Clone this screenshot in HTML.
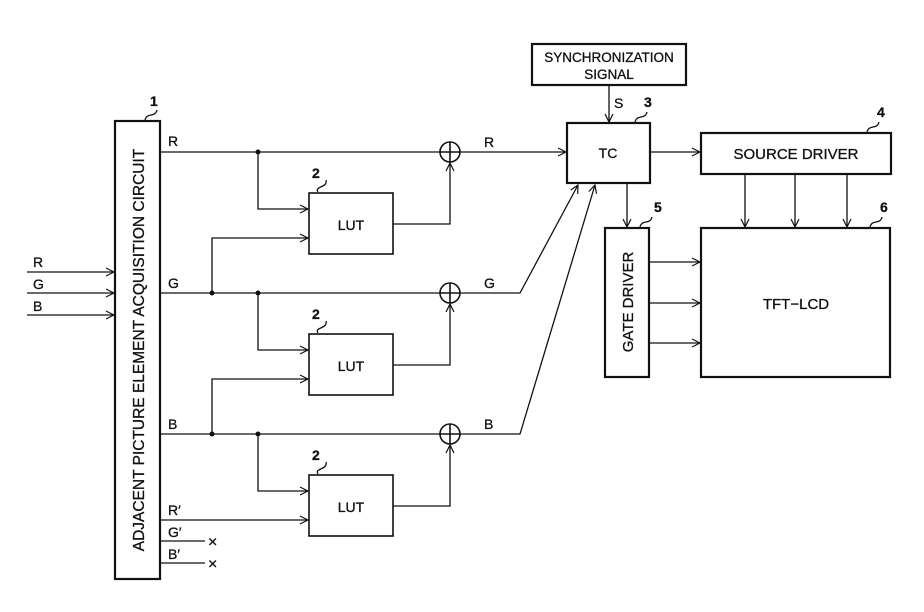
<!DOCTYPE html>
<html><head><style>body{margin:0;background:#fff}svg{display:block}text{font-family:"Liberation Sans",sans-serif;fill:#111;stroke:#111;stroke-width:0.3}</style></head><body>
<svg width="924" height="612" viewBox="0 0 924 612" xmlns="http://www.w3.org/2000/svg">
<defs><marker id="a" markerWidth="10" markerHeight="10" refX="9" refY="5" orient="auto" markerUnits="userSpaceOnUse"><path d="M1,1 L9,5 L1,9" fill="none" stroke="#111" stroke-width="1.2"/></marker></defs>
<g stroke="#111" stroke-width="1.6" fill="none">
<rect x="115" y="121" width="45" height="458" stroke-width="2.2"/>
<rect x="309" y="193" width="84" height="61"/>
<rect x="309" y="334" width="84" height="61"/>
<rect x="309" y="475" width="84" height="61"/>
<rect x="532" y="44" width="154" height="41" stroke-width="2.2"/>
<rect x="567" y="123" width="83" height="60" stroke-width="2.2"/>
<rect x="701" y="133" width="190" height="41" stroke-width="2.2"/>
<rect x="701" y="228" width="189" height="149" stroke-width="2.2"/>
<rect x="605" y="228" width="44" height="149" stroke-width="2.2"/>
<circle cx="450" cy="152" r="10"/><circle cx="450" cy="293" r="10"/><circle cx="450" cy="434" r="10"/>
<path d="M440,152h20M450,142v20M440,293h20M450,283v20M440,434h20M450,424v20"/>
</g>
<g stroke="#111" stroke-width="1.3" fill="none" marker-end="url(#a)">
<path d="M27,272H114"/><path d="M27,293H114"/><path d="M27,315H114"/>
<path d="M258,152V209H308"/><path d="M212,293V238H308"/>
<path d="M258,293V350H308"/><path d="M212,434V379H308"/>
<path d="M258,434V491H308"/><path d="M160,520H308"/>
<path d="M393,224H450V163"/><path d="M393,365H450V304"/><path d="M393,506H450V445"/>
<path d="M460,152H566"/><path d="M460,293H520L578,185"/><path d="M460,434H520L595,185"/>
<path d="M609,85V122"/><path d="M650,152H700"/><path d="M627,183V227"/>
<path d="M745,174V227"/><path d="M795,174V227"/><path d="M847,174V227"/>
<path d="M649,262H700"/><path d="M649,303H700"/><path d="M649,343H700"/>
</g>
<g stroke="#111" stroke-width="1.3" fill="none">
<path d="M160,152H440M160,293H440M160,434H440M160,541H205M160,563H205"/>
<path d="M145,120c2,-8 10,-2 12,-10"/><path d="M318,192c-4,-6 10,-4 8,-12"/>
<path d="M318,333c-4,-6 10,-4 8,-12"/><path d="M318,474c-4,-6 10,-4 8,-12"/>
<path d="M635,122c2,-8 10,-2 12,-10"/><path d="M867,132c2,-8 10,-2 12,-10"/><path d="M640,227c2,-8 10,-2 12,-10"/><path d="M870,227c2,-8 10,-2 12,-10"/>
</g>
<g fill="#111"><circle cx="258" cy="152" r="2.5"/><circle cx="212" cy="293" r="2.5"/><circle cx="258" cy="293" r="2.5"/><circle cx="212" cy="434" r="2.5"/><circle cx="258" cy="434" r="2.5"/></g>
<g font-size="14">
<text x="33" y="267">R</text><text x="33" y="289">G</text><text x="33" y="311">B</text>
<text x="168" y="146">R</text><text x="168" y="288">G</text><text x="168" y="429">B</text>
<text x="168" y="515">R′</text><text x="168" y="537">G′</text><text x="168" y="559">B′</text>
<text x="208" y="547" font-size="16">×</text><text x="208" y="569" font-size="16">×</text>
<text x="484" y="147">R</text><text x="484" y="288">G</text><text x="484" y="429">B</text>
<text x="614" y="108">S</text>
<g font-weight="bold"><text x="150" y="106">1</text><text x="312" y="178">2</text><text x="312" y="319">2</text><text x="312" y="460">2</text>
<text x="644" y="107">3</text><text x="877" y="117">4</text><text x="654" y="212">5</text><text x="880" y="212">6</text></g>
<text x="351" y="230" text-anchor="middle">LUT</text><text x="351" y="371" text-anchor="middle">LUT</text><text x="351" y="512" text-anchor="middle">LUT</text>
<text x="609" y="62" text-anchor="middle" font-size="13.5">SYNCHRONIZATION</text><text x="609" y="79" text-anchor="middle" font-size="13.5">SIGNAL</text>
<text x="608" y="158" text-anchor="middle">TC</text>
<text x="796" y="159" text-anchor="middle" font-size="15">SOURCE DRIVER</text>
<text x="796" y="309" text-anchor="middle" font-size="15">TFT−LCD</text>
<text transform="translate(633,302) rotate(-90)" text-anchor="middle" font-size="15">GATE DRIVER</text>
<text transform="translate(144,350) rotate(-90)" text-anchor="middle" font-size="15.5">ADJACENT PICTURE ELEMENT ACQUISITION CIRCUIT</text>
</g>
</svg>
</body></html>
